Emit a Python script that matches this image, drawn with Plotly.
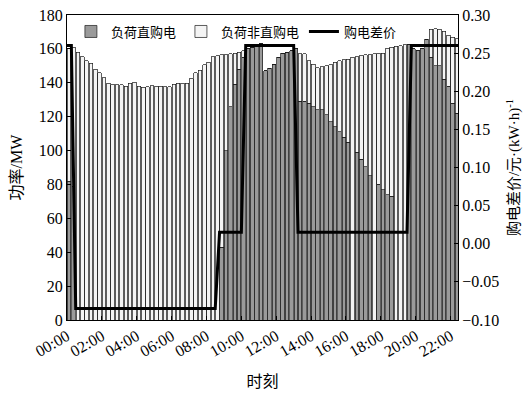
import plotly.graph_objects as go

# 15-minute slots starting 00:00 (bar i covers slot i)
total_load = [160, 161, 158, 155.5, 153, 151.5, 148, 146, 143, 139.7,
              138.7, 138.7, 138.7, 138, 139.7, 140.3, 138, 137.3, 137.7, 138.2,
              138, 138, 137.8, 137.8, 139, 139.7, 139.7, 139.7, 142.3, 146,
              147.5, 150.5, 152, 155.5, 156, 156.5, 156.5, 157, 157.5, 158,
              159, 160, 161, 162, 163, 147, 148.5, 151, 155, 157.5,
              158, 159, 160, 157, 157, 153, 151, 149, 149.5, 150,
              150.5, 152, 153, 153.5, 154, 155, 155.5, 156, 156.5, 156.5,
              157, 157.5, 157.5, 160.5, 161, 161.5, 162, 162.3, 162.5, 160,
              159, 160, 165.6, 171.5, 172, 171.5, 170.5, 168, 167, 166]
direct_load = [82, 79, 0, 0, 0, 0, 0, 0, 0, 0,
               0, 0, 0, 0, 0, 0, 0, 0, 0, 0,
               0, 0, 0, 0, 0, 0, 0, 0, 0, 0,
               0, 0, 0, 0, 0, 43, 100, 126, 139, 148,
               155, 160, 161, 162, 163, 147, 148.5, 151, 155, 157.5,
               158, 159, 160, 129, 129, 128, 126, 124, 124, 121,
               117, 114, 111, 108, 105, 0, 99, 95, 90.5, 85,
               0, 80, 77, 74, 73, 0, 0, 0, 162.5, 160,
               159, 160, 165.6, 155, 150, 150, 142, 138, 128, 122]
non_direct_load = [t - d for t, d in zip(total_load, direct_load)]

# price difference at slot boundaries
price_diff = [0.26, 0.26] + [-0.085] * 33 + [0.015] * 6 + [0.26] * 12 + [0.015] * 26 + [0.26] * 12

tick_slots = [0, 8, 16, 24, 32, 40, 48, 56, 64, 72, 80, 88]
tick_labels = ["00:00", "02:00", "04:00", "06:00", "08:00", "10:00",
               "12:00", "14:00", "16:00", "18:00", "20:00", "22:00"]

n = len(total_load)
bar_x = [i + 0.5 for i in range(n)]
line_x = list(range(len(price_diff)))

FONT = "Liberation Serif, Times New Roman, Noto Sans CJK SC, serif"

fig = go.Figure()
fig.add_trace(go.Bar(x=bar_x, y=direct_load, name="负荷直购电", width=0.82,
                     marker=dict(color="#9a9a9a", line=dict(color="#1a1a1a", width=0.7))))
fig.add_trace(go.Bar(x=bar_x, y=non_direct_load, name="负荷非直购电", width=0.82,
                     marker=dict(color="#f4f4f4", line=dict(color="#1a1a1a", width=0.7))))
fig.add_trace(go.Scatter(x=line_x, y=price_diff, name="购电差价", yaxis="y2", mode="lines",
                         line=dict(color="black", width=3)))

axis_common = dict(showline=True, linecolor="black", linewidth=1, mirror=True,
                   ticks="inside", tickcolor="black", ticklen=4, showgrid=False, zeroline=False,
                   automargin=False,
                   tickfont=dict(family=FONT, size=16, color="black"))

fig.update_layout(
    width=529, height=394,
    margin=dict(l=67, r=71, t=15, b=74),
    barmode="stack",
    plot_bgcolor="white", paper_bgcolor="white",
    font=dict(family=FONT, size=16, color="black"),
    showlegend=True,
    legend=dict(orientation="h", x=0.01, y=0.995, xanchor="left", yanchor="top",
                bgcolor="rgba(255,255,255,0)", font=dict(size=13, family=FONT),
                itemwidth=30, tracegroupgap=0, traceorder="normal"),
    xaxis=dict(range=[0, 89.7], tickmode="array", tickvals=tick_slots, ticktext=tick_labels,
               tickangle=-30, title=dict(text="时刻", font=dict(size=16), standoff=16),
               **axis_common),
    yaxis=dict(range=[0, 180], dtick=20, title=dict(text="功率/MW", font=dict(size=16), standoff=12),
               **axis_common),
    yaxis2=dict(range=[-0.10, 0.30], dtick=0.05, tickformat=".2f", overlaying="y", side="right",
                title=dict(text="购电差价/元·(kW·h)<sup>-1</sup>", font=dict(size=15), standoff=10),
                showline=True, linecolor="black", ticks="inside", tickcolor="black", ticklen=4,
                showgrid=False, zeroline=False, automargin=False,
                tickfont=dict(family=FONT, size=16, color="black")),
)

fig.write_html("out.html", config={"displayModeBar": False},
               post_script="document.body.style.margin='0px';")
